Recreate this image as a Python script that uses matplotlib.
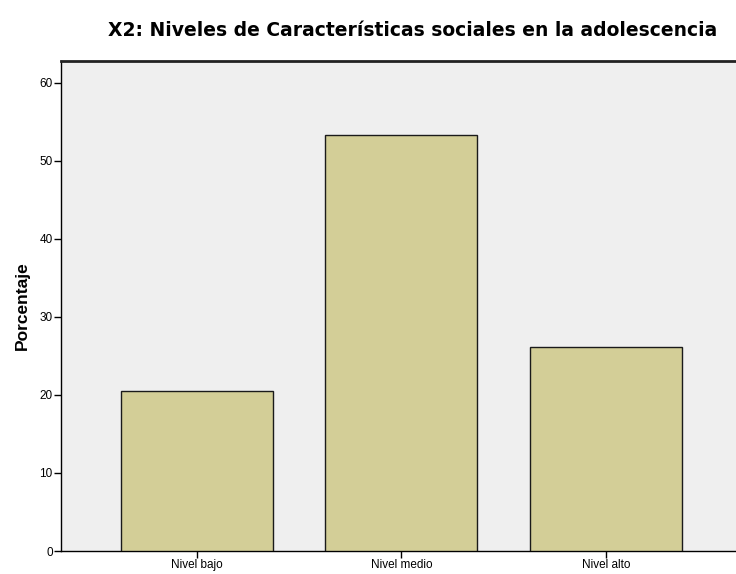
import numpy as np
import matplotlib.pyplot as plt

categories = ['Nivel bajo', 'Nivel medio', 'Nivel alto']
porcentaje = [20.5, 53.3, 26.2]
yticks = [0, 10, 20, 30, 40, 50, 60]

plt.rcParams['font.family'] = ['Liberation Sans', 'DejaVu Sans']

fig = plt.figure(figsize=(7.36, 5.74), dpi=100)
ax = fig.add_axes([61 / 736, 1 - 551 / 574, 1 - 61 / 736, (551 - 61) / 574])

bg = '#efefef'
bar_color = '#d3ce97'
ax.set_facecolor(bg)

x = np.arange(len(categories))
ax.bar(x, porcentaje, width=0.743, color=bar_color, edgecolor='#1a1a1a', linewidth=1.0, zorder=3)

ax.set_xlim(-0.665, 2.636)
ax.set_ylim(0, 62.8)
ax.set_xticks(x)
ax.set_xticklabels(categories, fontsize=8.5)
ax.set_yticks(yticks)
ax.set_yticklabels([str(v) for v in yticks], fontsize=8.5)
ax.tick_params(axis='both', direction='out', length=5, width=1, color='black', pad=1)

for side in ['left', 'bottom']:
    ax.spines[side].set_linewidth(1)
    ax.spines[side].set_color('black')
ax.spines['right'].set_visible(False)
ax.spines['top'].set_linewidth(2)
ax.spines['top'].set_color('#222222')

ax.set_ylabel('Porcentaje', fontsize=12.5, fontweight='bold', labelpad=7)

fig.text(0.561, 0.947, 'X2: Niveles de Características sociales en la adolescencia',
         fontsize=13.5, fontweight='bold', ha='center', va='center', family=['DejaVu Sans'])

fig.savefig('out.png', dpi=100)
plt.close(fig)
